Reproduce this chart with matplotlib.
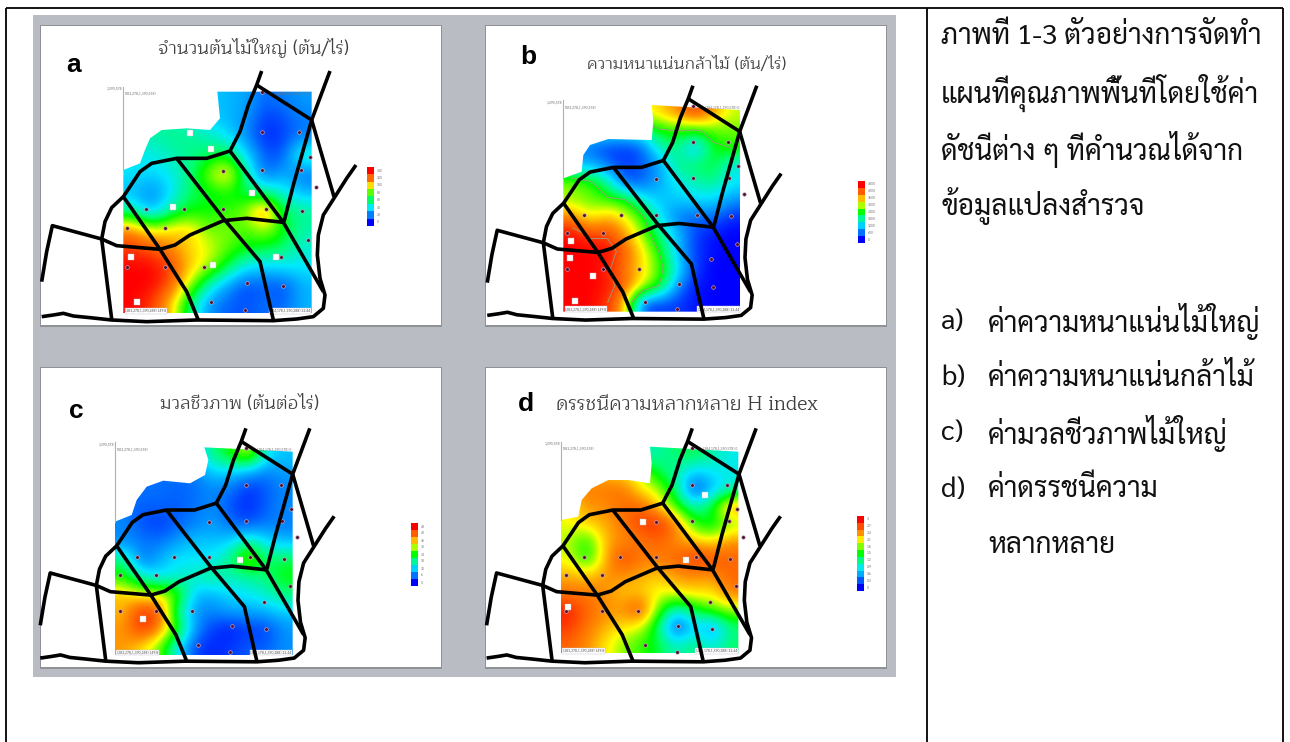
import matplotlib
matplotlib.use("Agg")
import matplotlib.pyplot as plt
import matplotlib.font_manager as fm
from matplotlib.ft2font import FT2Font
from matplotlib.colors import LinearSegmentedColormap
from matplotlib.patches import Rectangle, Polygon
import numpy as np

# ---------------- data ----------------
TITLES = ["จำนวนต้นไม้ใหญ่ (ต้น/ไร่)", "ความหนาแน่นกล้าไม้ (ต้น/ไร่)", "มวลชีวภาพ (ต้นต่อไร่)", "ดรรชนีความหลากหลาย H index"]
LETTERS = ["a", "b", "c", "d"]
SCALE_A = [0, 20, 40, 60, 80, 100, 120, 140]
SCALE_B = [0, 600, 1200, 1800, 2400, 3000, 3600, 4200, 4800]
SCALE_C = [0, 6, 12, 18, 24, 30, 36, 42, 48]
SCALE_D = [0, 0.3, 0.6, 0.9, 1.2, 1.5, 1.8, 2.1, 2.4, 2.7, 3]

GRID_A = [
    [50, 50, 50, 40, 35, 30, 28, 15, 20, 25],
    [55, 55, 50, 45, 35, 30, 25, 8, 12, 20],
    [50, 50, 55, 55, 50, 40, 22, 5, 10, 20],
    [40, 42, 48, 55, 60, 70, 38, 14, 12, 55],
    [40, 35, 42, 55, 85, 110, 55, 12, 30, 15],
    [30, 20, 35, 60, 65, 70, 60, 55, 45, 30],
    [55, 25, 55, 70, 70, 75, 85, 125, 60, 55],
    [115, 95, 100, 105, 80, 85, 75, 90, 70, 50],
    [130, 125, 115, 100, 95, 80, 70, 65, 60, 45],
    [140, 140, 130, 105, 90, 65, 40, 35, 40, 40],
    [140, 140, 125, 90, 50, 25, 10, 15, 10, 30],
    [140, 130, 105, 60, 22, 15, 12, 18, 15, 30],
]
GRID_B = [
    [3000, 3000, 3000, 3000, 3200, 3500, 3900, 4500, 3800, 3100],
    [1500, 1500, 1500, 1500, 1800, 2400, 2500, 2400, 2700, 2800],
    [700, 500, 300, 250, 400, 1800, 1900, 800, 2400, 2500],
    [1000, 1100, 600, 300, 500, 800, 2000, 2100, 2300, 1400],
    [3000, 2600, 1900, 350, 500, 1000, 1400, 1700, 1900, 1400],
    [2900, 2800, 2600, 2500, 1500, 1100, 1200, 1250, 1300, 800],
    [4000, 3200, 3700, 3300, 2600, 1300, 600, 500, 600, 200],
    [4800, 4400, 4400, 3800, 2900, 1900, 1100, 300, 100, 0],
    [4800, 4800, 4800, 4200, 3400, 2400, 1000, 300, 50, 0],
    [4800, 4800, 4600, 4000, 3400, 2700, 1400, 300, 0, 0],
    [4800, 4800, 4700, 4200, 3300, 2400, 700, 100, 0, 0],
    [4800, 4800, 4500, 3600, 300, 300, 300, 100, 0, 0],
]
GRID_C = [
    [10, 10, 10, 10, 10, 20, 24, 33, 14, 11],
    [6, 6, 6, 6, 6, 12, 11, 8, 6, 9],
    [6, 6, 6, 5, 6, 7, 6, 2, 5, 7],
    [6, 5, 5, 5, 6, 8, 4, 2, 5, 8],
    [8, 4, 3, 5, 7, 9, 6, 4, 7, 6],
    [7, 7, 6, 9, 12, 11, 12, 20, 13, 11],
    [20, 5, 10, 14, 13, 14, 20, 32, 20, 22],
    [25, 16, 13, 15, 17, 20, 16, 18, 20, 24],
    [36, 32, 32, 28, 10, 10, 13, 14, 16, 20],
    [36, 46, 44, 18, 8, 7, 9, 9, 10, 12],
    [38, 46, 40, 26, 8, 3, 1, 3, 3, 8],
    [38, 34, 28, 14, 3, 2, 3, 5, 5, 8],
]
GRID_D = [
    [1.0, 1.0, 1.0, 1.0, 1.0, 1.1, 1.3, 1.4, 1.1, 0.9],
    [2.2, 2.2, 2.2, 2.2, 1.9, 1.3, 1.1, 0.7, 0.9, 0.9],
    [2.4, 2.5, 2.5, 2.5, 2.1, 1.9, 1.2, 0.1, 0.6, 1.0],
    [2.1, 2.4, 2.4, 2.6, 2.6, 2.2, 1.6, 1.0, 1.5, 2.5],
    [2.0, 2.2, 2.3, 2.5, 2.8, 2.9, 2.5, 1.6, 1.3, 1.8],
    [1.9, 1.5, 2.3, 2.4, 2.5, 2.6, 2.4, 2.2, 2.1, 2.4],
    [2.0, 1.4, 2.3, 2.8, 2.5, 2.5, 2.6, 2.9, 2.7, 2.6],
    [2.3, 2.2, 2.4, 2.4, 2.3, 2.2, 2.4, 2.4, 2.4, 2.6],
    [2.5, 2.5, 2.4, 2.2, 2.2, 2.0, 2.1, 2.2, 2.1, 2.5],
    [2.9, 2.6, 2.4, 2.4, 2.8, 1.7, 0.9, 1.4, 1.7, 1.9],
    [2.8, 2.5, 2.3, 2.1, 2.0, 1.2, 0.05, 0.8, 0.4, 1.2],
    [2.6, 2.4, 2.1, 1.8, 1.6, 1.4, 1.0, 1.3, 0.9, 1.3],
]

# survey plots and road network, in the coordinates of panel a (3x crop units)
PLOTS_X = [695, 808, 840, 695, 812, 858, 578, 463, 578, 707, 817, 347, 405, 290, 835, 752, 522, 290, 405, 650, 758, 542, 645, 695]
PLOTS_Y = [350, 350, 427, 465, 465, 516, 467, 582, 582, 582, 587, 582, 640, 640, 675, 725, 755, 755, 755, 803, 813, 862, 886, 232]
ROADS = [
    [(35, 905), (70, 900), (100, 895), (130, 903), (180, 908), (245, 915), (350, 920), (500, 915), (730, 917), (800, 912), (850, 905), (880, 880), (885, 840), (870, 790), (862, 720), (865, 660), (880, 600), (915, 545), (950, 490), (978, 450)],
    [(35, 800), (50, 710), (67, 632), (215, 672), (260, 692), (390, 703), (435, 690), (480, 660), (580, 617), (650, 610), (760, 622)],
    [(215, 672), (245, 912)],
    [(215, 672), (225, 620), (245, 578), (280, 545), (330, 470), (365, 445), (440, 430), (530, 430), (600, 408), (630, 350), (655, 270), (680, 210), (695, 168)],
    [(680, 210), (845, 315)],
    [(900, 168), (845, 315), (790, 510), (762, 620)],
    [(845, 315), (912, 545)],
    [(600, 408), (760, 622), (880, 830)],
    [(440, 430), (580, 610), (690, 740), (730, 915)],
    [(280, 545), (390, 703), (470, 830), (505, 915)],
]
OUTLINE_A = [(280, 895), (280, 465), (330, 445), (345, 405), (360, 370), (395, 345), (470, 340), (540, 345), (570, 310), (562, 230), (845, 230), (845, 895)]
OUTLINE_B = [(265, 890), (265, 490), (320, 470), (325, 420), (345, 390), (400, 372), (530, 375), (535, 320), (530, 270), (795, 285), (795, 890)]
OUTLINE_C = [(255, 885), (255, 485), (305, 465), (320, 420), (350, 380), (400, 362), (480, 370), (525, 345), (535, 300), (523, 262), (788, 275), (788, 885)]
OUTLINE_D = [(258, 880), (258, 480), (310, 470), (320, 420), (350, 385), (400, 360), (460, 360), (525, 370), (530, 310), (525, 260), (790, 275), (790, 880)]

TAGS_A = [(480, 355), (542, 402), (430, 577), (665, 533), (737, 727), (550, 750), (303, 727), (320, 860)]
TAGS_B = [(287, 678), (285, 730), (355, 782), (300, 857)]
TAGS_C = [(338, 776), (630, 600)]
TAGS_D = [(505, 485), (632, 600), (690, 405), (278, 742)]

BODY_LINES = ["ภาพที่ 1-3 ตัวอย่างการจัดทำ", "แผนที่คุณภาพพื้นที่โดยใช้ค่า", "ดัชนีต่าง ๆ ที่คำนวณได้จาก", "ข้อมูลแปลงสำรวจ"]
LIST_LINES = [("a)", "ค่าความหนาแน่นไม้ใหญ่"), ("b)", "ค่าความหนาแน่นกล้าไม้"), ("c)", "ค่ามวลชีวภาพไม้ใหญ่"), ("d)", "ค่าดรรชนีความ"), ("", "หลากหลาย")]

# ---------------- fonts ----------------
thai_fonts = set()
for f in fm.fontManager.ttflist:
    try:
        if 0x0E01 in FT2Font(f.fname).get_charmap():
            thai_fonts.add(f.name)
    except Exception:
        pass


def pick(*names):
    for n in names:
        if n in thai_fonts:
            return n
    return "DejaVu Sans"


BODY_FONT = [pick("Sarabun", "Noto Sans Thai Looped", "Loma", "Noto Sans Thai"), "DejaVu Sans"]
TITLE_FONT = [pick("Maitree", "Noto Serif Thai", "FreeSerif"), "DejaVu Sans"]
plt.rcParams["font.family"] = BODY_FONT

# ---------------- styles / layout ----------------
cmap = LinearSegmentedColormap.from_list("survey", [
    (0.00, "#0000ff"), (0.14, "#0080ff"), (0.28, "#00e8ff"), (0.42, "#00ff70"),
    (0.50, "#00ff00"), (0.60, "#80ff00"), (0.68, "#ffff00"), (0.80, "#ff9000"),
    (0.90, "#ff5000"), (1.00, "#ff0000")])

PANELS = [
    dict(grid=GRID_A, scale=SCALE_A, outline=OUTLINE_A, tags=TAGS_A, crop=(30, 15), rect=(280, 845, 230, 895), road=(1.0, 0, 0),
         slide=(41, 26), title=(253, 48, 13), letter=(74, 65), bar=(367, 374, 167, 226), contour=None),
    dict(grid=GRID_B, scale=SCALE_B, outline=OUTLINE_B, tags=TAGS_B, crop=(475, 15), rect=(265, 795, 270, 890), road=(0.935, 4, 55),
         slide=(486, 26), title=(687, 64, 12), letter=(528, 57), bar=(858, 865, 181, 243), contour=[2500, 4500]),
    dict(grid=GRID_C, scale=SCALE_C, outline=OUTLINE_C, tags=TAGS_C, crop=(30, 360), rect=(255, 788, 262, 885), road=(0.935, -2, 48),
         slide=(41, 368), title=(240, 405, 13), letter=(76, 411), bar=(411, 418, 523, 586), contour=None),
    dict(grid=GRID_D, scale=SCALE_D, outline=OUTLINE_D, tags=TAGS_D, crop=(475, 360), rect=(258, 790, 260, 880), road=(0.935, 2, 48),
         slide=(486, 368), title=(687, 405, 14), letter=(526, 404), bar=(857, 864, 516, 591), contour=None),
]

fig = plt.figure(figsize=(12.9, 7.42), dpi=100)
ax = fig.add_axes([0, 0, 1, 1])
ax.set_xlim(0, 1290)
ax.set_ylim(742, 0)
ax.axis("off")

# table frame
for xs, ys in [((6, 1283), (8, 8)), ((6, 6), (8, 742)), ((927, 927), (8, 742)), ((1283, 1283), (8, 742))]:
    ax.plot(xs, ys, color="black", lw=1.3, zorder=1, solid_capstyle="butt")

# slide-sorter background
ax.add_patch(Rectangle((33, 15), 863, 662, fc="#b9bcc2", ec="none", zorder=1))

for idx, p in enumerate(PANELS):
    cx, cy = p["crop"]
    sx0, sy0 = p["slide"]
    ax.add_patch(Rectangle((sx0 - 1, sy0 - 1), 402, 302, fc="#8e9196", ec="none", zorder=2))
    ax.add_patch(Rectangle((sx0, sy0), 400, 299, fc="white", ec="none", zorder=3))

    def px(x, y):
        return cx + x / 3.0, cy + y / 3.0

    x0, x1, y0, y1 = p["rect"]
    left, top = px(x0, y0)
    right, bottom = px(x1, y1)
    vals = np.array(p["grid"], dtype=float)
    im = ax.imshow(vals, extent=(left, right, bottom, top), cmap=cmap, vmin=p["scale"][0], vmax=p["scale"][-1],
                   interpolation="bicubic", aspect="auto", zorder=4)
    clip = Polygon([px(*q) for q in p["outline"]], closed=True, transform=ax.transData, fc="none", ec="none")
    ax.add_patch(clip)
    im.set_clip_path(clip)

    if p["contour"]:
        nr, nc = vals.shape
        gx = left + (np.arange(nc) + 0.5) * (right - left) / nc
        gy = top + (np.arange(nr) + 0.5) * (bottom - top) / nr
        cs = ax.contour(gx, gy, vals, levels=p["contour"], colors="#a09a80", linewidths=0.6, zorder=4.5)
        cs.set_clip_path(clip)

    # grey vertical axis of the source map and its small corner captions
    ax.plot([left, left], [top - 5, px(0, p["outline"][1][1])[1]], color="#b0b0b0", lw=0.8, zorder=4)
    ax.text(left - 1, top - 3, "1,390,578", fontsize=2.6, color="#777777", ha="right", va="center", zorder=5)
    ax.text(left + 2, top + 2, "(283,278,1,390,578)", fontsize=2.6, color="#777777", ha="left", va="center", zorder=5)
    ax.text(right - 1, top + 2, "(284,178,1,390,578) 0", fontsize=2.6, color="#777777", ha="right", va="center", zorder=5)
    ax.text(left + 2, bottom - 2.5, "(283,278,1,390,288) 149.8", fontsize=2.6, color="#555555", ha="left", va="center", zorder=5,
            bbox=dict(fc="white", ec="#c0c0d0", lw=0.3, pad=0.6))
    ax.text(right - 1, bottom - 2.5, "(284,178,1,390,288) 22.44", fontsize=2.6, color="#555555", ha="right", va="center", zorder=5,
            bbox=dict(fc="white", ec="#c0c0d0", lw=0.3, pad=0.6))

    # survey points
    k, ox, oy = p["road"]
    ptx = [px(k * a + ox, 0)[0] for a in PLOTS_X]
    pty = [px(0, k * b + oy)[1] for b in PLOTS_Y]
    ax.scatter(ptx, pty, s=7, c="#5a1030", edgecolors="#c8c0d0", linewidths=0.4, zorder=5)

    # small white value tags
    tgx = [px(a, 0)[0] for a, _ in p["tags"]]
    tgy = [px(0, b)[1] for _, b in p["tags"]]
    ax.scatter(tgx, tgy, s=14, marker="s", c="white", edgecolors="#c0c0c0", linewidths=0.3, zorder=5)

    # roads
    for road in ROADS:
        rx = [px(k * a + ox, 0)[0] for a, _ in road]
        ry = [px(0, k * b + oy)[1] for _, b in road]
        ax.plot(rx, ry, color="black", lw=2.6, zorder=6, solid_joinstyle="round", solid_capstyle="butt")

    # stepped legend bar
    bx0, bx1, by0, by1 = p["bar"]
    n = len(p["scale"])
    lv = np.array(p["scale"], dtype=float)[::-1].reshape(-1, 1)
    ax.imshow(lv, extent=(bx0, bx1, by1, by0), cmap=cmap, vmin=p["scale"][0], vmax=p["scale"][-1],
              interpolation="nearest", aspect="auto", zorder=5)
    h = (by1 - by0) / n
    for i, v in enumerate(p["scale"][::-1]):
        ax.text(bx1 + 3, by0 + (i + 0.5) * h, f"{v:g}", fontsize=2.6, color="#777777", va="center", ha="left", zorder=5)

    tx, ty, fs = p["title"]
    ax.text(tx, ty, TITLES[idx], fontsize=fs, family=TITLE_FONT, color="#404040", ha="center", va="center", zorder=7)
    lx, ly = p["letter"]
    ax.text(lx, ly, LETTERS[idx], fontsize=19, fontweight="bold", family="Liberation Sans",
            color="black", ha="center", va="center", zorder=7)

ax.set_xlim(0, 1290)
ax.set_ylim(742, 0)

# right-hand column: size fitted to the reference's first line (941..1262 px)
probe = ax.text(0, 0, BODY_LINES[0], fontsize=20)
fig.canvas.draw()
BODY_SIZE = 20 * 321.0 / probe.get_window_extent().width
probe.remove()

BODY_Y = [37, 93, 150, 206]
for y, line in zip(BODY_Y, BODY_LINES):
    ax.text(941, y, line, fontsize=BODY_SIZE, color="#111111", ha="left", va="center", zorder=7)
LIST_Y = [322, 378, 433, 490, 546]
for y, (tag, line) in zip(LIST_Y, LIST_LINES):
    if tag:
        ax.text(941, y, tag, fontsize=BODY_SIZE, color="#111111", ha="left", va="center", zorder=7)
    ax.text(988, y, line, fontsize=BODY_SIZE, color="#111111", ha="left", va="center", zorder=7)

fig.savefig("out.png", dpi=100)
